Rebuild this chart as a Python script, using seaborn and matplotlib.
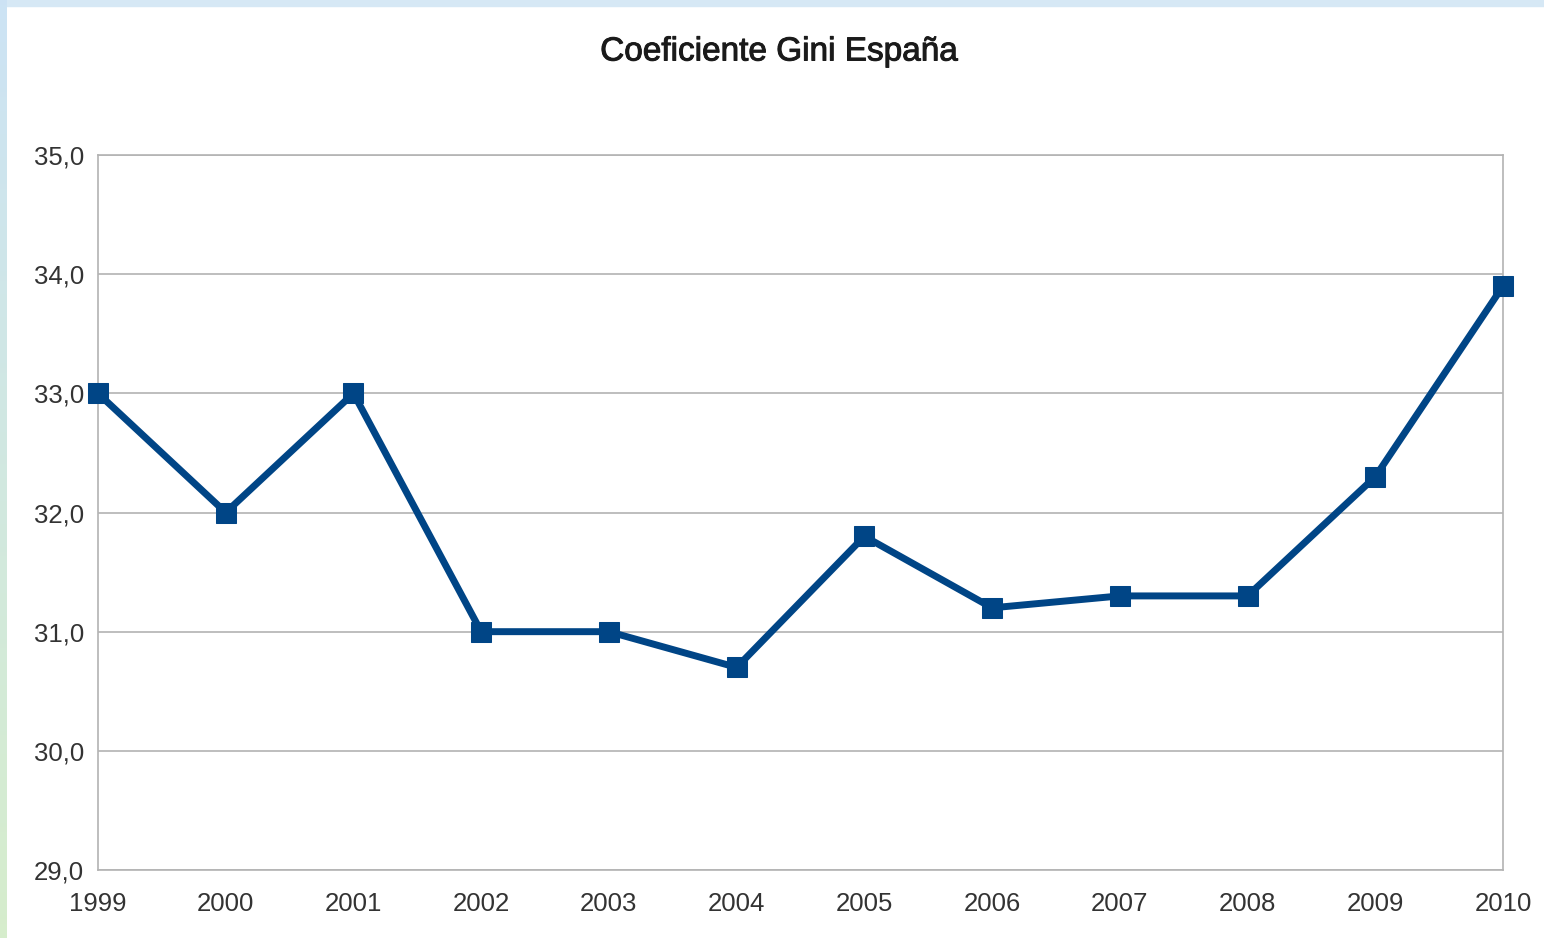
import matplotlib
matplotlib.use("Agg")
import matplotlib.pyplot as plt
import matplotlib.patches as mpatches
import matplotlib.patheffects as pe
import numpy as np
import seaborn as sns
import pandas as pd
from matplotlib.ticker import FuncFormatter

years = [1999, 2000, 2001, 2002, 2003, 2004, 2005, 2006, 2007, 2008, 2009, 2010]
gini = [33.0, 32.0, 33.0, 31.0, 31.0, 30.7, 31.8, 31.2, 31.3, 31.3, 32.3, 33.9]
y_ticks = [29, 30, 31, 32, 33, 34, 35]

df = pd.DataFrame({"Año": years, "Gini": gini})

sns.set_style("white")
plt.rcParams['font.family'] = ['Liberation Sans', 'DejaVu Sans']

fig = plt.figure(figsize=(15.44, 9.38), dpi=100)
fig.patch.set_facecolor('white')

# light frame on top / left like the source screenshot
fig.patches.append(mpatches.Rectangle((0, 1 - 6 / 938), 1, 6 / 938, transform=fig.transFigure,
                                      color='#d6e8f5', zorder=0))
strip = np.zeros((938, 7, 3))
top_c = np.array([0.80, 0.89, 0.96])
bot_c = np.array([0.84, 0.93, 0.80])
for i in range(938):
    t = i / 937
    strip[i, :, :] = top_c * (1 - t) + bot_c * t
fig.figimage(strip, xo=0, yo=0, origin='upper', zorder=0)

ax = fig.add_axes([98 / 1544, 68 / 938, 1405 / 1544, 715 / 938])

sns.lineplot(data=df, x="Año", y="Gini", ax=ax, color='#004586', linewidth=5,
             marker='s', markersize=14, markeredgecolor='#004586', clip_on=False, zorder=3)

ax.set_xlim(1999, 2010)
ax.set_ylim(29, 35)
ax.set_xticks(years)
ax.set_yticks(y_ticks)
ax.yaxis.set_major_formatter(FuncFormatter(lambda v, p: f"{v:.1f}".replace('.', ',')))
ax.grid(axis='y', color='#b3b3b3', linewidth=1.2)
ax.set_axisbelow(True)
for s in ax.spines.values():
    s.set_color('#b3b3b3')
    s.set_linewidth(1.2)
ax.tick_params(axis='both', direction='out', length=8, width=1.2, color='#b3b3b3',
               labelsize=18.5, labelcolor='#333333')
ax.tick_params(axis='x', pad=8)
ax.tick_params(axis='y', pad=2)
ax.set_xlabel('')
ax.set_ylabel('')

fig.text(779 / 1544, 1 - 52 / 938, 'Coeficiente Gini España',
         ha='center', va='center', fontsize=24, color='#1a1a1a',
         path_effects=[pe.withStroke(linewidth=0.7, foreground='#1a1a1a')])

plt.savefig("out.png", dpi=100)
plt.close()
